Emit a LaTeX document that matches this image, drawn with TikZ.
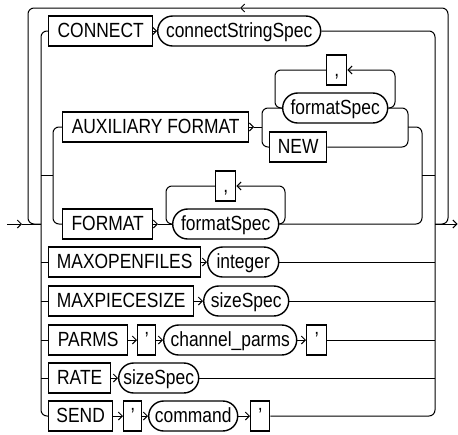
\documentclass[tikz,border=0pt]{standalone}
\usepackage{fontspec}
\setmainfont{Liberation Sans}[FakeStretch=0.85]
\usetikzlibrary{arrows.meta}

\tikzset{
  kwbox/.style={draw, line width=1.4pt, rectangle, minimum height=30pt,
    inner sep=0pt, anchor=west, text height=15pt, text depth=3pt,
    font=\fontsize{20.5}{24}\selectfont},
  ntbox/.style={kwbox, rounded corners=15pt},
  track/.style={line width=1pt, rounded corners=6pt},
}

\begin{document}
\begin{tikzpicture}[x=1pt, y=-1pt, >={Straight Barb[length=4pt,width=8pt]}]
  \useasboundingbox (0,0) rectangle (458,434);

  % keywords and nonterminals, row by row
  \node[kwbox, minimum width=104pt] (cnct) at (48,31) {CONNECT};
  \node[ntbox, minimum width=163pt] (cstr) at (157,31) {connectStringSpec};

  \node[kwbox, minimum width=20pt]  (cm1)  at (326,70)  {,};
  \node[ntbox, minimum width=105pt] (fsp1) at (282,108) {formatSpec};
  \node[kwbox, minimum width=186pt] (aux)  at (62,127)  {AUXILIARY FORMAT};
  \node[kwbox, minimum width=57pt]  (new)  at (269,147) {NEW};

  \node[kwbox, minimum width=20pt]  (cm2)  at (215,186) {,};
  \node[kwbox, minimum width=90pt]  (fmt)  at (62,224)  {FORMAT};
  \node[ntbox, minimum width=106pt] (fsp2) at (172,224) {formatSpec};

  \node[kwbox, minimum width=152pt] (mof) at (48,262)  {MAXOPENFILES};
  \node[ntbox, minimum width=71pt]  (int) at (207,262) {integer};

  \node[kwbox, minimum width=145pt] (mps) at (48,301)  {MAXPIECESIZE};
  \node[ntbox, minimum width=85pt]  (sz1) at (203,301) {sizeSpec};

  \node[kwbox, minimum width=79pt]  (prm) at (48,340)  {PARMS};
  \node[kwbox, minimum width=18pt]  (pq1) at (137,340) {’};
  \node[ntbox, minimum width=133pt] (chp) at (163,340) {channel\_parms};
  \node[kwbox, minimum width=20pt]  (pq2) at (306,340) {’};

  \node[kwbox, minimum width=62pt]  (rat) at (48,378)  {RATE};
  \node[ntbox, minimum width=80pt]  (sz2) at (118,378) {sizeSpec};

  \node[kwbox, minimum width=64pt]  (snd) at (48,416)  {SEND};
  \node[kwbox, minimum width=18pt]  (sq1) at (123,416) {’};
  \node[ntbox, minimum width=89pt]  (cmd) at (148,416) {command};
  \node[kwbox, minimum width=19pt]  (sq2) at (250,416) {’};

  % rails and junction points
  \coordinate (in)     at (7,224);
  \coordinate (inarr)  at (22,224);
  \coordinate (lv)     at (41,224);
  \coordinate (lvi)    at (53,175);
  \coordinate (rv)     at (435,224);
  \coordinate (rvi)    at (422,175);
  \coordinate (out)    at (457.5,224);
  \coordinate (topl)   at (28,8);
  \coordinate (topr)   at (448,8);
  \coordinate (toparr) at (240,8);
  \coordinate (auxarr) at (254,127);
  \coordinate (ajl)    at (262,127);
  \coordinate (ajr)    at (408,127);
  \coordinate (al)     at (275,70);
  \coordinate (ar)     at (395,70);
  \coordinate (fmtarr) at (158,224);
  \coordinate (fl)     at (166,186);
  \coordinate (fr)     at (285,186);

  % entry, exit and the repeat loop
  \draw[track,->] (in) -- (inarr);
  \draw[track] (inarr) -- (lv);
  \draw[track,->] (rv) -- (out);
  \draw[track,->] (rv) -| (topr) -- (toparr);
  \draw[track] (toparr) -| (lv -| topl) -- (lv);

  % main choice rails
  \draw[track] (cnct.west) -| (snd.west -| lv) -- (snd.west);
  \foreach \n in {mof,mps,prm,rat}
    \draw[track] (\n.west -| lv) -- (\n.west);
  \draw[track] (lvi -| lv) -- (lvi);
  \draw[track] (aux.west) -| (fmt.west -| lvi) -- (fmt.west);

  \draw[track] (cstr.east) -| (sq2.east -| rv) -- (sq2.east);
  \foreach \n in {int,sz1,pq2,sz2}
    \draw[track] (\n.east) -- (\n.east -| rv);
  \draw[track] (rvi) -- (rvi -| rv);

  % auxiliary format: formatSpec list or NEW
  \draw[track,->] (aux.east) -- (auxarr);
  \draw[track] (auxarr) -- (ajl);
  \draw[track] (fsp1.west) -| (new.west -| ajl) -- (new.west);
  \draw[track] (fsp1.east) -| (new.east -| ajr) -- (new.east);
  \draw[track] (ajr) -| (fsp2.east -| rvi) -- (fsp2.east);
  \draw[track,->] (fsp1.east) -| (ar) -- (cm1.east);
  \draw[track] (cm1.west) -| (fsp1.west -| al) -- (fsp1.west);

  % format: formatSpec list
  \draw[track,->] (fmt.east) -- (fmtarr);
  \draw[track] (fmtarr) -- (fsp2.west);
  \draw[track,->] (fsp2.east) -| (fr) -- (cm2.east);
  \draw[track] (cm2.west) -| (fsp2.west -| fl) -- (fsp2.west);

  % arrows between items of a row
  \foreach \a/\b in {cnct/cstr,mof/int,mps/sz1,prm/pq1,pq1/chp,chp/pq2,
                     rat/sz2,snd/sq1,sq1/cmd,cmd/sq2}
    \draw[track,->] (\a.east) -- (\b.west);
\end{tikzpicture}
\end{document}
